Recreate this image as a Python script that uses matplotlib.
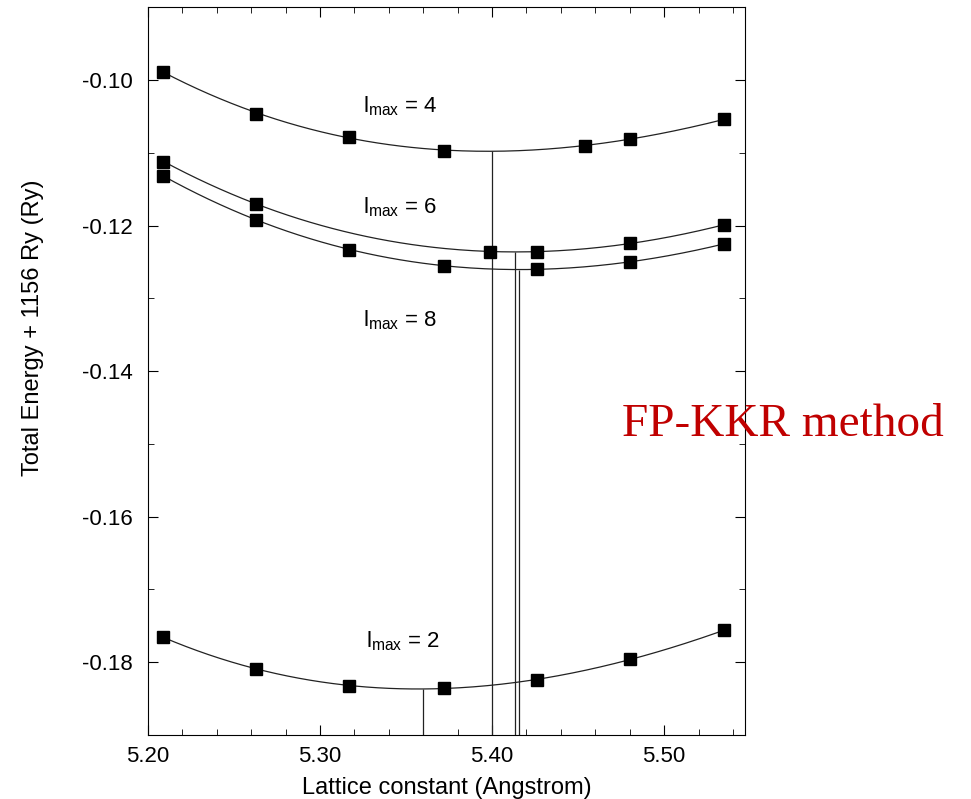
import numpy as np
import matplotlib
matplotlib.use("Agg")
import matplotlib.pyplot as plt
from matplotlib.ticker import MultipleLocator, FormatStrFormatter

# --- data ---
lmax4_a = [5.209, 5.263, 5.317, 5.372, 5.454, 5.480, 5.535]
lmax4_e = [-0.0989, -0.1046, -0.1078, -0.1097, -0.1090, -0.1081, -0.1054]

lmax6_a = [5.209, 5.263, 5.399, 5.426, 5.480, 5.535]
lmax6_e = [-0.1112, -0.1170, -0.1236, -0.1236, -0.1224, -0.1199]

lmax8_a = [5.209, 5.263, 5.317, 5.372, 5.426, 5.480, 5.535]
lmax8_e = [-0.1132, -0.1192, -0.1233, -0.1255, -0.1260, -0.1250, -0.1225]

lmax2_a = [5.209, 5.263, 5.317, 5.372, 5.426, 5.480, 5.535]
lmax2_e = [-0.1766, -0.1809, -0.1832, -0.1836, -0.1824, -0.1796, -0.1756]

# equilibrium lattice constants (vertical lines)
eq_a = {"2": 5.360, "4": 5.400, "6": 5.4134, "8": 5.4159}

labels = ["4", "6", "8", "2"]
label_x = [5.325, 5.325, 5.325, 5.327]
label_y = [-0.1044, -0.1183, -0.1339, -0.1779]

plt.rcParams["font.family"] = ["Liberation Sans", "DejaVu Sans"]
plt.rcParams["mathtext.fontset"] = "custom"
plt.rcParams["mathtext.rm"] = "Liberation Sans"
plt.rcParams["axes.unicode_minus"] = False

fig = plt.figure(figsize=(9.71, 7.99), dpi=100)
ax = fig.add_axes([0.1524, 0.0801, 0.6148, 0.9108])

series = {
    "4": (lmax4_a, lmax4_e),
    "6": (lmax6_a, lmax6_e),
    "8": (lmax8_a, lmax8_e),
    "2": (lmax2_a, lmax2_e),
}

for key, (a, e) in series.items():
    coef = np.polyfit(a, e, 3)
    xs = np.linspace(min(a), max(a), 200)
    ax.plot(xs, np.polyval(coef, xs), color="#222222", lw=0.9)
    ax.plot(a, e, "s", color="black", ms=9)
    x0 = eq_a[key]
    ax.vlines(x0, -0.19, np.polyval(coef, x0), color="#222222", lw=0.9)

for lab, tx, ty in zip(labels, label_x, label_y):
    ax.text(tx, ty, r"$\mathregular{l_{max}}$ = " + lab, fontsize=16,
            va="baseline", ha="left")

ax.set_xlim(5.20, 5.547)
ax.set_ylim(-0.19, -0.09)
ax.xaxis.set_major_locator(MultipleLocator(0.1))
ax.xaxis.set_minor_locator(MultipleLocator(0.02))
ax.yaxis.set_major_locator(MultipleLocator(0.02))
ax.yaxis.set_minor_locator(MultipleLocator(0.01))
ax.xaxis.set_major_formatter(FormatStrFormatter("%.2f"))
ax.yaxis.set_major_formatter(FormatStrFormatter("%.2f"))

ax.tick_params(which="both", direction="in", top=True, right=True)
ax.tick_params(which="major", length=7, labelsize=16)
ax.tick_params(which="minor", length=4)
ax.tick_params(axis="x", pad=8)
ax.tick_params(axis="y", pad=11)

ax.set_xlabel("Lattice constant (Angstrom)", fontsize=17, labelpad=7)
ax.set_ylabel("Total Energy + 1156 Ry (Ry)", fontsize=17)
ax.yaxis.set_label_coords(-0.175, 0.56)

fig.text(622 / 971, 1 - 425 / 799, "FP-KKR method", color="#C00000",
         fontsize=34, family="Liberation Serif", va="center", ha="left")

plt.savefig("out.png", dpi=100)
